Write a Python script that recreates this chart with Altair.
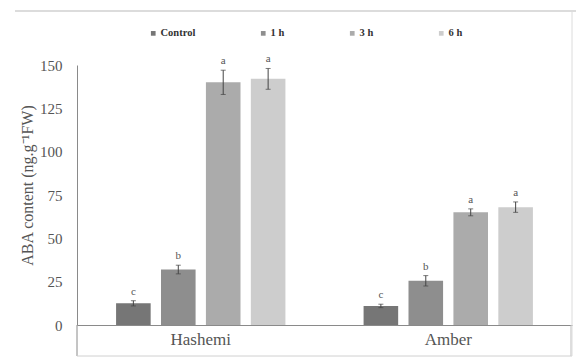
import altair as alt
import pandas as pd

# Cultivars and sampling times
cultivars = ["Hashemi", "Amber"]
treatments = ["Control", "1 h", "3 h", "6 h"]

# ABA content (ng g-1 FW), mean and error per treatment
hashemi_vals = [12.5, 32, 140, 142]
hashemi_err = [1.5, 2.5, 7, 6]
hashemi_sig = ["c", "b", "a", "a"]

amber_vals = [11, 25.5, 65, 68]
amber_err = [1, 3, 2, 3]
amber_sig = ["c", "b", "a", "a"]

bar_colors = ["#767676", "#8e8e8e", "#ababab", "#cdcdcd"]

rows = []
for cv, vals, errs, sigs in [
    ("Hashemi", hashemi_vals, hashemi_err, hashemi_sig),
    ("Amber", amber_vals, amber_err, amber_sig),
]:
    for t, v, e, s in zip(treatments, vals, errs, sigs):
        rows.append({"cultivar": cv, "treatment": t, "value": v,
                     "lo": v - e, "hi": v + e, "sig": s})
df = pd.DataFrame(rows)

serif = "Liberation Serif"
W, H = 495, 260

x_enc = alt.X("cultivar:N", sort=cultivars,
              scale=alt.Scale(paddingInner=0, paddingOuter=0),
              axis=alt.Axis(title=None, labelFont=serif, labelFontSize=17,
                            labelColor="#555555", labelPadding=6, ticks=False,
                            domainColor="#8a8a8a", labelAngle=0))
xo_enc = alt.XOffset("treatment:N", sort=treatments,
                     scale=alt.Scale(paddingInner=0.23, paddingOuter=0.87))

base = alt.Chart(df).encode(x=x_enc, xOffset=xo_enc)

bars = base.mark_bar(opacity=1).encode(
    y=alt.Y("value:Q", scale=alt.Scale(domain=[0, 150], nice=False),
            axis=alt.Axis(values=[0, 25, 50, 75, 100, 125, 150], grid=False,
                          ticks=False, domainColor="#8a8a8a",
                          labelFont=serif, labelFontSize=15,
                          labelColor="#555555", labelPadding=15,
                          title="ABA content (ng.g\u207b\u00b9FW)",
                          titleFont=serif, titleFontSize=16,
                          titleFontWeight="normal", titleColor="#555555",
                          titleX=-42, titleY=120)),
    color=alt.Color("treatment:N", sort=treatments,
                    scale=alt.Scale(domain=treatments, range=bar_colors),
                    legend=alt.Legend(title=None, orient="none",
                                      direction="horizontal",
                                      legendX=71, legendY=-37,
                                      symbolType="square", symbolSize=22,
                                      symbolStrokeWidth=0,
                                      labelFont=serif, labelFontSize=10.5,
                                      labelFontWeight="bold",
                                      labelColor="#333333",
                                      labelOffset=2, columnPadding=62)),
)

err_rule = base.mark_rule(color="#444444", strokeWidth=1).encode(
    y="lo:Q", y2="hi:Q")
cap_hi = base.mark_tick(orient="horizontal", size=5, thickness=1,
                        color="#444444").encode(y="hi:Q")
cap_lo = base.mark_tick(orient="horizontal", size=5, thickness=1,
                        color="#444444").encode(y="lo:Q")

letters = base.mark_text(font=serif, fontSize=11, color="#555555",
                         baseline="bottom", dy=-4).encode(
    y="hi:Q", text="sig:N")

# Category separators and frame lines below and around the plot
frame_df = pd.DataFrame({"k": [0]})
frame = alt.Chart(frame_df)
lines = [
    frame.mark_rule(color="#8a8a8a").encode(
        x=alt.value(0), y=alt.value(H), y2=alt.value(H + 31)),
    frame.mark_rule(color="#bdbdbd").encode(
        x=alt.value(W - 1), y=alt.value(H), y2=alt.value(H + 31)),
    frame.mark_rule(color="#d0d0d0").encode(
        x=alt.value(0), x2=alt.value(W), y=alt.value(H + 31)),
    frame.mark_rule(color="#dcdcdc", strokeWidth=2).encode(
        x=alt.value(-62), x2=alt.value(W + 4), y=alt.value(-54)),
    frame.mark_rule(color="#dcdcdc").encode(
        x=alt.value(W), y=alt.value(-54), y2=alt.value(H + 31)),
]

chart = alt.layer(bars, err_rule, cap_hi, cap_lo, letters, *lines).properties(
    width=W, height=H, autosize="none",
    padding={"left": 77, "top": 65, "right": 4, "bottom": 34},
    background="white",
).configure_view(stroke=None)

chart.save("out.html", embed_options={"renderer": "svg", "actions": False})
